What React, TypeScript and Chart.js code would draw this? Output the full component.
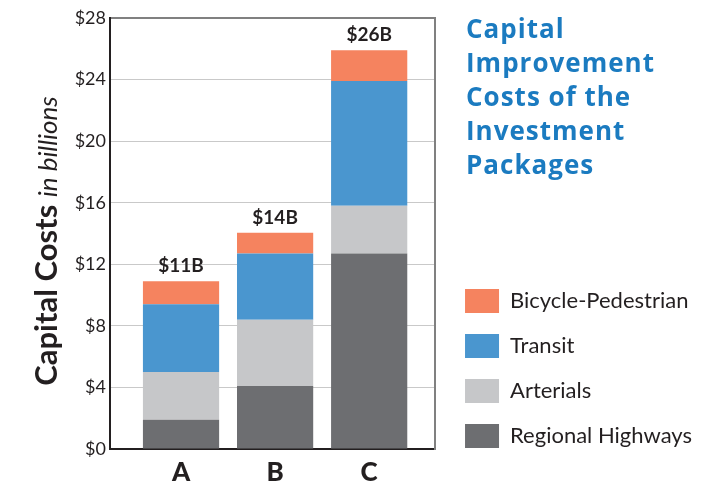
import React, { useEffect, useRef } from 'react';
import { Chart, registerables } from 'chart.js';

Chart.register(...registerables);

// ---- data ----
const categories = ['A', 'B', 'C'];
const regionalHighways = [1.9, 4.1, 12.7];
const arterials = [3.1, 4.3, 3.1];
const transit = [4.4, 4.3, 8.1];
const bicyclePedestrian = [1.5, 1.35, 2.0];
const seriesLabels = ['Regional Highways', 'Arterials', 'Transit', 'Bicycle-Pedestrian'];
const seriesColors = ['#6d6e71', '#c6c7c9', '#4a96cf', '#f5835f'];
const yMin = 0;
const yMax = 28;
const yStep = 4;
const titleLines = ['Capital', 'Improvement', 'Costs of the', 'Investment', 'Packages'];
const yTitleBold = 'Capital Costs';
const yTitleItalic = 'in billions';

const seriesValues = [regionalHighways, arterials, transit, bicyclePedestrian];
const INK = '#231f20';

const yTitlePlugin = {
  id: 'yTitle',
  afterDraw(chart: any) {
    const ctx = chart.ctx;
    ctx.save();
    ctx.translate(57, 241);
    ctx.rotate(-Math.PI / 2);
    ctx.fillStyle = INK;
    ctx.textBaseline = 'alphabetic';
    ctx.textAlign = 'left';
    const bold = 'bold 31px Lato';
    const ital = 'italic 26px Lato';
    ctx.font = bold;
    const w1 = ctx.measureText(yTitleBold + ' ').width;
    ctx.font = ital;
    const w2 = ctx.measureText(yTitleItalic).width;
    const start = -(w1 + w2) / 2;
    ctx.font = bold;
    ctx.fillText(yTitleBold, start, 0);
    ctx.font = ital;
    ctx.fillText(yTitleItalic, start + w1, 0);
    ctx.restore();
  },
};

const totalsPlugin = {
  id: 'totals',
  afterDatasetsDraw(chart: any) {
    const ctx = chart.ctx;
    const meta = chart.getDatasetMeta(chart.data.datasets.length - 1);
    ctx.save();
    ctx.font = 'bold 19px Lato';
    ctx.fillStyle = INK;
    ctx.textAlign = 'center';
    ctx.textBaseline = 'middle';
    categories.forEach((_, i) => {
      const el = meta.data[i];
      if (!el) return;
      const total = seriesValues.reduce((s, arr) => s + arr[i], 0);
      ctx.fillText(`$${Math.round(total)}B`, el.x, el.y - 15);
    });
    ctx.restore();
  },
};

export default function App() {
  const canvasRef = useRef<HTMLCanvasElement>(null);

  useEffect(() => {
    const canvas = canvasRef.current;
    if (!canvas) return;
    const chart = new Chart(canvas, {
      type: 'bar',
      data: {
        datasets: seriesValues.map((vals, k) => ({
          label: seriesLabels[k],
          data: vals.map((v, i) => ({ x: i, y: v })),
          backgroundColor: seriesColors[k],
          borderWidth: 0,
          grouped: false,
          categoryPercentage: 1,
          barPercentage: 0.81,
        })),
      },
      options: {
        responsive: false,
        animation: false,
        devicePixelRatio: 1,
        layout: { padding: { top: 18, bottom: 0, left: 0, right: 24 } },
        plugins: {
          tooltip: { enabled: false },
          title: { display: false },
          legend: {
            display: true,
            position: 'right',
            align: 'start',
            reverse: true,
            maxWidth: 400,
            title: { display: true, text: '', padding: { top: 238, bottom: 0 }, font: { size: 10 } },
            labels: {
              boxWidth: 34,
              boxHeight: 24,
              padding: 21,
              color: INK,
              font: { family: 'Lato', size: 22 },
            },
          },
        },
        scales: {
          x: {
            type: 'linear',
            offset: false,
            min: -0.755,
            max: 2.7,
            afterBuildTicks: (s: any) => {
              s.ticks = categories.map((_, i) => ({ value: i }));
            },
            afterFit: (s: any) => {
              s.height = 36;
            },
            ticks: {
              autoSkip: false,
              maxRotation: 0,
              padding: 8,
              color: INK,
              font: { family: 'Lato', size: 26, weight: 900 },
              callback: (v: any) => (categories[v as number] ?? ''),
            },
            grid: { display: false, drawTicks: false },
            border: { color: INK, width: 2 },
          },
          y: {
            stacked: true,
            min: yMin,
            max: yMax,
            afterFit: (s: any) => {
              s.width = 110;
            },
            ticks: {
              stepSize: yStep,
              padding: 4,
              color: INK,
              font: { family: 'Lato', size: 18 },
              callback: (v: any) => '$' + v,
            },
            grid: {
              drawTicks: false,
              color: (c: any) => (c.tick && c.tick.value === yMax ? '#808080' : '#c9c9c9'),
              lineWidth: (c: any) => (c.tick && c.tick.value === yMax ? 2 : 1),
            },
            border: { color: INK, width: 2 },
          },
          y2: {
            position: 'right',
            min: 0,
            max: 1,
            afterFit: (s: any) => {
              s.width = 9;
            },
            ticks: { display: false },
            grid: { display: false, drawTicks: false },
            border: { color: '#808080', width: 2 },
          },
        },
      },
      plugins: [yTitlePlugin, totalsPlugin],
    } as any);
    return () => chart.destroy();
  }, []);

  return (
    <div style={{ position: 'absolute', left: 0, top: 0, width: 726, height: 485, background: '#fff' }}>
      <canvas ref={canvasRef} width={726} height={485} style={{ display: 'block', width: 726, height: 485 }} />
      <div
        style={{
          position: 'absolute',
          left: 466,
          top: 11,
          fontFamily: '"Open Sans", sans-serif',
          fontWeight: 700,
          fontSize: 26,
          lineHeight: '34px',
          letterSpacing: '1px',
          color: '#1b7bc0',
          whiteSpace: 'nowrap',
        }}
      >
        {titleLines.map((l) => (
          <div key={l}>{l}</div>
        ))}
      </div>
    </div>
  );
}
